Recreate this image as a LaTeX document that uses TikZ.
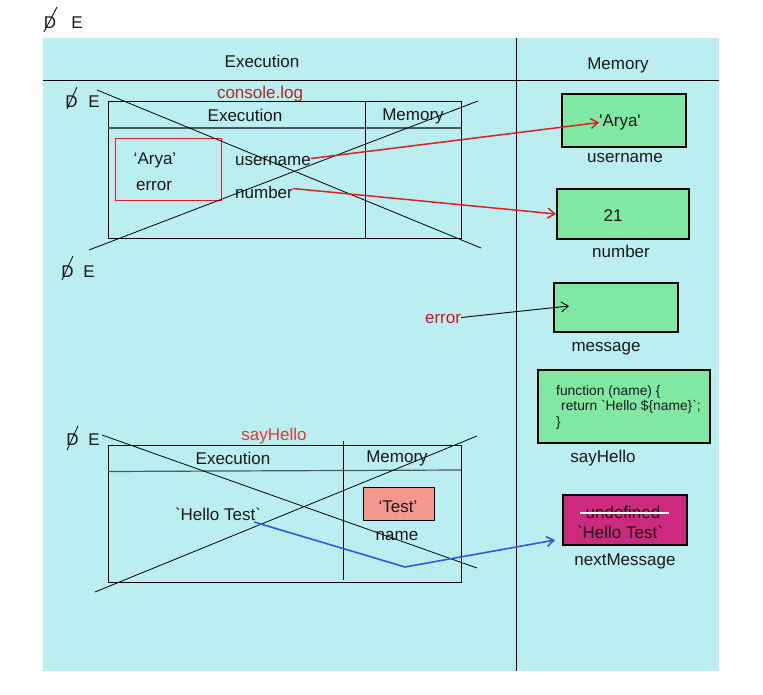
\documentclass[tikz,border=0pt]{standalone}
\usepackage{fontspec}
\setmainfont{Liberation Sans}
\usetikzlibrary{arrows.meta}
\definecolor{bgcyan}{HTML}{BBEEF0}
\definecolor{cellgreen}{HTML}{7FE8A2}
\definecolor{cellmagenta}{HTML}{CB2A7E}
\definecolor{cellsalmon}{HTML}{F4988F}
\definecolor{darkred}{HTML}{B22525}
\definecolor{brightred}{HTML}{E53935}
\definecolor{arrred}{HTML}{E0201F}
\definecolor{arrblue}{HTML}{2D5BE6}
\definecolor{ruleGray}{HTML}{4A5A5C}
\newcommand{\bq}{\textasciigrave}
\newcommand{\sq}{\textquotesingle}
\begin{document}
\begin{tikzpicture}[x=1pt,y=-1pt,
  txt/.style={font=\fontsize{17}{20}\selectfont, inner sep=0pt, text=black!90, yshift=-1.5pt},
  codetxt/.style={font=\fontsize{13.8}{16}\selectfont, inner sep=0pt, align=left, text=black!90},
  memcell/.style={draw=black, line width=2pt, fill=cellgreen, inner sep=0pt},
  frame/.style={draw=black, line width=0.9pt, inner sep=0pt, anchor=north west},
  cross/.style={draw=black, line width=0.8pt},
  tip/.style={-{Straight Barb[length=7pt,width=10pt]}},
  redarrow/.style={tip, draw=arrred, line width=1.5pt},
  bluearrow/.style={tip, draw=arrblue, line width=1.6pt},
  blackarrow/.style={tip, draw=black, line width=0.9pt},
]
\useasboundingbox (0,0) rectangle (763,695);

% ---- backdrop and the two main columns ----
\fill[bgcyan] (43,38) rectangle (719,671);
\draw[line width=0.9pt] (516,38) -- (516,671);
\draw[line width=0.9pt] (43,80) -- (719,80);
\node[txt] (hdrExec) at (262,60) {Execution};
\node[txt] (hdrMem)  at (618,64) {Memory};

% ---- struck "D  E" markers ----
\node[txt] (dTop) at (50,21) {D};
\node[txt] (eTop) at (77,21) {E};
\draw[line width=0.8pt] (44,32) -- (57,7);

\node[txt] (dA) at (71.5,100) {D};
\node[txt] (eA) at (94,100) {E};
\draw[line width=0.8pt] (67,109) -- (77,87);

\node[txt] (dB) at (67.5,270) {D};
\node[txt] (eB) at (89,270) {E};
\draw[line width=0.8pt] (62,280) -- (73,256);

\node[txt] (dC) at (72.5,438) {D};
\node[txt] (eC) at (94,438) {E};
\draw[line width=0.8pt] (67,450) -- (78,426);

% ---- console.log frame ----
\node[font=\fontsize{17}{20}\selectfont, text=darkred, inner sep=0pt, yshift=-1.5pt] (clog) at (260,93) {console.log};
\node[frame, minimum width=353pt, minimum height=137pt] (frameA) at (108,101) {};
\draw[ruleGray, line width=1.6pt] (108,128) -- (461,128);
\draw[line width=0.9pt] (365,101) -- (365,238);
\node[txt] (aExec) at (245,114) {Execution};
\node[txt] (aMem)  at (413,115) {Memory};
\node[draw=arrred, line width=0.8pt, minimum width=106pt, minimum height=62pt, inner sep=0pt] (scopeBox) at (168,169) {};
\node[txt] (aArya)  at (155,159) {‘Arya’};
\node[txt] (aError) at (154,185) {error};
\node[txt, anchor=west] (aUser) at (235,160) {username};
\node[txt, anchor=west] (aNum)  at (235,191) {number};
\draw[cross] (97,90) -- (481,248);
\draw[cross] (89,250) -- (478,101);

% ---- sayHello frame ----
\node[font=\fontsize{17}{20}\selectfont, text=brightred, inner sep=0pt, yshift=-1.5pt] (sayLbl) at (274,435) {sayHello};
\node[frame, minimum width=353pt, minimum height=137pt] (frameB) at (108,445) {};
\draw[ruleGray, line width=1.2pt] (108,471.5) -- (461,470);
\draw[line width=0.9pt] (343,441) -- (343,580);
\node[txt] (bExec) at (233,457) {Execution};
\node[txt] (bMem)  at (397,457) {Memory};
\node[draw=black, line width=0.8pt, fill=cellsalmon, minimum width=71pt, minimum height=33pt, inner sep=0pt] (testBox) at (398.5,503.5) {};
\node[txt] (testVal) at (398,505) {‘Test’};
\node[txt] (bName) at (397,535) {name};
\node[txt] (bHello) at (218,513) {\bq Hello Test\bq};
\draw[cross] (102,435) -- (477,568);
\draw[cross] (95,592) -- (477,436);

% ---- memory cells ----
\node[memcell, minimum width=124pt, minimum height=53pt] (userCell) at (624,120.5) {};
\node[txt] (userVal) at (620,121) {\sq Arya\sq};
\node[txt] (userLbl) at (625,157) {username};

\node[memcell, minimum width=132pt, minimum height=50pt] (numCell) at (623,214) {};
\node[txt] (numVal) at (613,214) {21};
\node[txt] (numLbl) at (621,250) {number};

\node[memcell, minimum width=124pt, minimum height=49pt] (msgCell) at (616,307.5) {};
\node[txt] (msgLbl) at (606,347) {message};
\coordinate (msgIn) at (569,306);

\node[memcell, minimum width=172pt, minimum height=73pt] (fnCell) at (624,406.5) {};
\node[codetxt, anchor=north west] (fnCode) at (556,385) {function (name) \{\\[-0.5pt]\hspace*{5pt}return \bq Hello \$\{name\}\bq;\\[-0.5pt]\}};
\node[txt] (fnLbl) at (603,457) {sayHello};

\node[memcell, fill=cellmagenta, minimum width=124pt, minimum height=50pt] (nextCell) at (625,520) {};
\node[txt] (nextOld) at (623,511) {undefined};
\draw[white, line width=2.5pt] (580,513) -- (669,513);
\node[txt] (nextVal) at (620,531) {\bq Hello Test\bq};
\node[txt] (nextLbl) at (625,560) {nextMessage};

% ---- error label and the references ----
\node[font=\fontsize{17}{20}\selectfont, text=darkred!90!red, inner sep=0pt, yshift=-1.5pt] (errLbl) at (443,318) {error};

\draw[redarrow] ([yshift=3pt]aUser.east) -- (userVal.west);
\draw[redarrow] ([yshift=4pt]aNum.east) -- (numCell.west);
\draw[blackarrow] ([yshift=2pt]errLbl.east) -- (msgIn);
\coordinate (bend) at (405,567);
\coordinate (nextIn) at (555,540);
\draw[bluearrow] ([xshift=-7pt,yshift=-1pt]bHello.south east) -- (bend) -- (nextIn);
\end{tikzpicture}
\end{document}
